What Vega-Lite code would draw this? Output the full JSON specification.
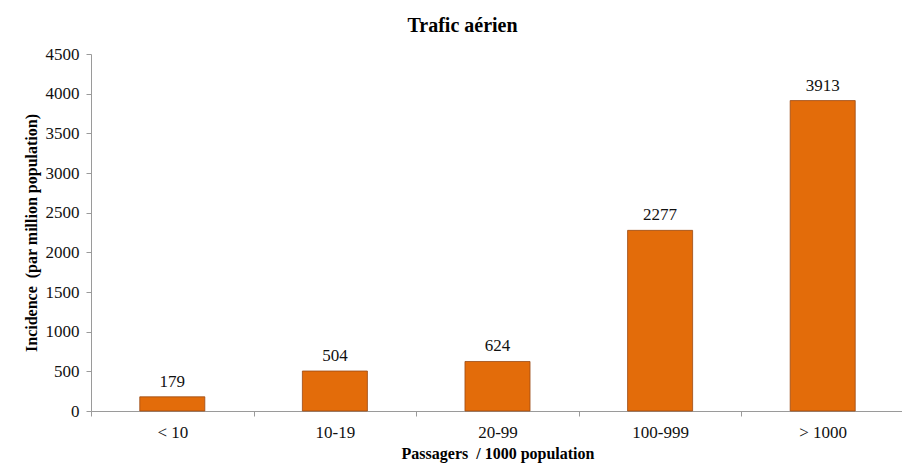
{
  "$schema": "https://vega.github.io/schema/vega-lite/v6.json",
  "autosize": "none",
  "width": 813,
  "height": 357,
  "padding": {"left": 91, "top": 54, "right": 0, "bottom": 59},
  "background": "white",
  "title": {
    "text": "Trafic aérien",
    "font": "Liberation Serif",
    "fontSize": 20,
    "fontWeight": "bold",
    "color": "#000000",
    "anchor": "middle",
    "dx": -35,
    "offset": 9
  },
  "data": {
    "values": [
      {"categorie": "< 10", "incidence": 179},
      {"categorie": "10-19", "incidence": 504},
      {"categorie": "20-99", "incidence": 624},
      {"categorie": "100-999", "incidence": 2277},
      {"categorie": "> 1000", "incidence": 3913}
    ]
  },
  "encoding": {
    "x": {
      "field": "categorie",
      "type": "nominal",
      "sort": null,
      "scale": {"paddingInner": 0, "paddingOuter": 0},
      "axis": {
        "title": "Passagers \u00a0/ 1000 population",
        "labelAngle": 0,
        "tickBand": "extent",
        "labelPadding": 8,
        "titlePadding": 5
      }
    },
    "y": {
      "field": "incidence",
      "type": "quantitative",
      "scale": {"domain": [0, 4500], "nice": false},
      "axis": {
        "title": "Incidence \u00a0(par million population)",
        "values": [0, 500, 1000, 1500, 2000, 2500, 3000, 3500, 4000, 4500],
        "format": "d",
        "grid": false,
        "labelPadding": 7,
        "titlePadding": 6
      }
    }
  },
  "layer": [
    {
      "mark": {"type": "bar", "width": {"band": 0.4}, "color": "#E36C0A", "stroke": "#9A4A14", "strokeWidth": 0.8}
    },
    {
      "mark": {"type": "text", "baseline": "bottom", "dy": -6, "font": "Liberation Serif", "fontSize": 17, "color": "#111111"},
      "encoding": {"text": {"field": "incidence", "type": "quantitative", "format": "d"}}
    }
  ],
  "config": {
    "view": {"stroke": null},
    "axis": {
      "domainColor": "#9a9a9a",
      "tickColor": "#9a9a9a",
      "tickSize": 5,
      "labelFont": "Liberation Serif",
      "labelFontSize": 17,
      "labelColor": "#111111",
      "titleFont": "Liberation Serif",
      "titleFontSize": 16,
      "titleFontWeight": "bold",
      "titleColor": "#000000"
    }
  }
}
